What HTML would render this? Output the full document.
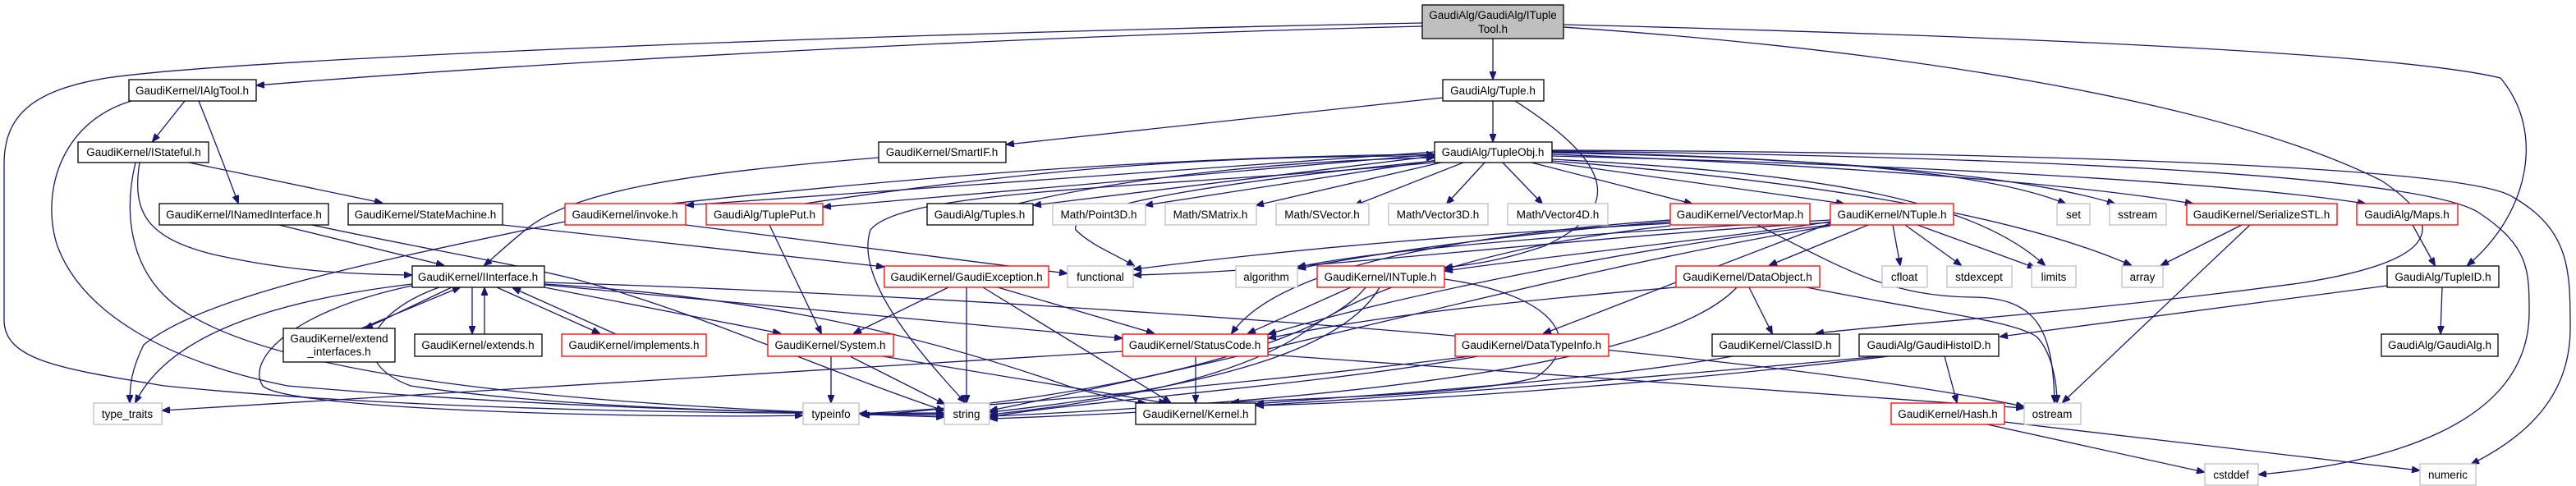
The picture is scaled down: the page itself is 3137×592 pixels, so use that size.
<!DOCTYPE html>
<html><head><meta charset="utf-8"><style>
html,body{margin:0;padding:0;background:#fff}
svg{display:block}
text{font-family:"Liberation Sans",sans-serif;font-size:13.5px;fill:#000;text-anchor:middle}
.e{fill:none;stroke:#191970;stroke-width:1.3}
.b{fill:#fff;stroke:#000;stroke-width:1.3}
.r{fill:#fff;stroke:#ff0000;stroke-width:1.3}
.g{fill:#fff;stroke:#bfbfbf;stroke-width:1.3}
</style></head><body>
<svg width="3137" height="592" viewBox="0 0 3137 592" xmlns="http://www.w3.org/2000/svg">
<defs><marker id="a" markerWidth="10" markerHeight="8" refX="9" refY="4" orient="auto" markerUnits="userSpaceOnUse"><path d="M0,0 L10,4 L0,8 z" fill="#191970" stroke="#191970"/></marker></defs>
<g class="e" marker-end="url(#a)">
<!-- top -->
<path d="M1818,47 L1818,96"/>
<path d="M1732,32 C1200,45 600,80 313,104"/>
<path d="M1732,28 C1100,40 300,70 130,95 C40,110 5,140 5,200 L5,390 C5,440 80,450 200,470 C500,500 900,505 1149,503"/>
<path d="M1904,30 C2300,40 2900,60 3045,95 C3100,160 3080,260 3005,323"/>
<path d="M1904,33 C2300,60 2700,120 2900,220 C2990,280 2960,320 2800,345 C2500,385 2300,395 2212,406"/>
<!-- Tuple -->
<path d="M1818,123 L1818,172"/>
<path d="M1757,119 L1226,176"/>
<path d="M1845,123 C1950,190 1990,250 1880,300 C1820,320 1790,322 1760,326"/>
<!-- IAlgTool -->
<path d="M225,123 L186,172"/>
<path d="M242,123 C265,180 280,220 290,247"/>
<path d="M160,123 C70,150 50,240 70,300 C100,380 200,440 350,470 C700,500 1000,503 1149,506"/>
<!-- IStateful -->
<path d="M230,198 L465,247"/>
<path d="M170,198 C160,260 180,290 260,310 C350,330 420,334 501,335"/>
<path d="M165,198 C150,260 160,320 200,360 C300,460 700,495 1149,508"/>
<!-- INamed -->
<path d="M340,274 L540,323"/>
<path d="M380,274 C500,300 620,320 700,340 C850,380 1000,450 1149,500"/>
<!-- StateMachine -->
<path d="M612,274 L1076,325"/>
<!-- SmartIF -->
<path d="M1070,192 C850,210 700,230 640,280 C615,300 600,315 590,323"/>
<!-- invoke -->
<path d="M688,270 C450,320 250,360 175,420 C160,450 158,470 158,490"/>
<path d="M835,274 L1299,333"/>
<!-- TupleObj to row3 -->
<path d="M1747,185 L836,250"/>
<path d="M1747,188 L1003,252"/>
<path d="M1747,190 L1259,250"/>
<path d="M1750,195 L1395,250"/>
<path d="M1755,198 L1530,250"/>
<path d="M1782,198 L1650,250"/>
<path d="M1808,198 L1762,248"/>
<path d="M1830,198 L1878,248"/>
<path d="M1865,198 L2060,248"/>
<path d="M1890,198 L2245,248"/>
<path d="M1890,185 C2100,190 2400,200 2515,248"/>
<path d="M1890,186 C2200,192 2450,210 2575,248"/>
<path d="M1890,188 C2200,200 2500,220 2670,248"/>
<path d="M1890,190 C2300,200 2700,220 2880,248"/>
<path d="M1890,194 C2200,210 2400,240 2490,323"/>
<path d="M1890,196 C2200,220 2450,260 2595,323"/>
<path d="M1890,184 C2400,190 2950,210 3020,260 C3080,300 3080,330 3080,380 C3080,520 2900,565 2751,578"/>
<path d="M1890,183 C2400,185 3000,200 3060,240 C3130,280 3130,330 3130,400 C3130,480 3080,530 3010,565"/>
<path d="M1747,196 C1500,220 1300,250 1310,280 C1330,300 1360,310 1381,324"/>
<path d="M1747,198 C1400,230 1100,230 1060,280 C1040,340 1120,430 1175,490"/>
<!-- back edges to TupleObj -->
<path d="M800,250 C1200,205 1500,190 1746,188"/>
<path d="M980,248 C1300,200 1500,190 1746,190"/>
<path d="M1240,248 C1400,210 1600,195 1746,192"/>
<!-- TuplePut -->
<path d="M937,274 L1000,406"/>
<!-- IInterface -->
<path d="M550,350 L445,400"/>
<path d="M440,400 L560,350"/>
<path d="M575,350 L575,406"/>
<path d="M590,407 L590,351"/>
<path d="M605,350 L730,406"/>
<path d="M750,407 L625,351"/>
<path d="M663,350 L950,406"/>
<path d="M663,347 L1366,412"/>
<path d="M502,346 C300,370 200,420 165,490"/>
<path d="M502,348 C350,380 300,440 320,470 C350,500 800,510 977,506"/>
<path d="M535,350 C450,380 420,440 500,470 C700,500 1000,504 1149,504"/>
<path d="M663,346 C900,360 1100,400 1300,470 C1350,485 1380,490 1395,491"/>
<path d="M663,344 C1200,360 2100,420 2464,495"/>
<!-- GaudiException -->
<path d="M1155,350 L1040,406"/>
<path d="M1177,350 L1177,490"/>
<path d="M1197,350 L1425,490"/>
<path d="M1215,350 L1405,406"/>
<!-- System -->
<path d="M1012,434 L1012,490"/>
<path d="M1035,434 L1150,492"/>
<path d="M1075,434 L1420,491"/>
<!-- StatusCode -->
<path d="M1456,434 L1456,490"/>
<path d="M1367,428 C900,460 500,480 198,500"/>
<path d="M1544,432 C1900,460 2200,480 2464,497"/>
<!-- VectorMap -->
<path d="M2034,270 C1900,280 1720,300 1581,327"/>
<path d="M2034,272 C1800,285 1600,300 1381,328"/>
<path d="M2034,268 C1800,285 1560,320 1500,406"/>
<path d="M2140,274 C2250,330 2300,360 2400,362 C2480,362 2500,400 2502,490"/>
<path d="M2034,275 C1800,300 1650,360 1595,400 C1500,470 1300,495 1206,505"/>
<!-- NTuple -->
<path d="M2275,274 L2155,323"/>
<path d="M2305,274 L2314,323"/>
<path d="M2320,274 L2388,323"/>
<path d="M2335,274 L2478,326"/>
<path d="M2229,270 C2100,290 1900,310 1760,330"/>
<path d="M2229,272 C2100,320 1950,380 1880,406"/>
<path d="M2229,274 C2000,300 1700,360 1545,407"/>
<path d="M2229,268 C2000,280 1700,300 1581,325"/>
<path d="M2229,271 C1900,290 1600,330 1381,335"/>
<path d="M2229,275 C1900,330 1600,420 1206,500"/>
<!-- INTuple -->
<path d="M1645,350 L1520,406"/>
<path d="M1680,350 C1640,420 1500,470 1206,502"/>
<path d="M1663,350 C1600,430 1300,490 1050,506"/>
<path d="M1759,340 C1900,360 1930,420 1870,460 C1800,480 1600,485 1500,490"/>
<!-- DataObject -->
<path d="M2130,350 L2158,406"/>
<path d="M2041,350 C1800,370 1650,390 1545,412"/>
<path d="M2115,350 C2050,420 1800,480 1206,507"/>
<path d="M2200,350 C2350,380 2450,390 2480,410 C2500,430 2505,470 2505,490"/>
<!-- DataTypeInfo -->
<path d="M1800,434 C1600,470 1300,490 1206,508"/>
<path d="M1790,434 C1500,470 1200,495 1047,504"/>
<!-- ClassID -->
<path d="M2110,434 C1900,470 1600,485 1530,492"/>
<!-- GaudiHistoID -->
<path d="M2368,434 L2383,490"/>
<path d="M2300,434 C2000,470 1700,490 1530,494"/>
<path d="M2290,434 C1900,470 1500,500 1206,510"/>
<!-- Hash -->
<path d="M2420,517 L2684,575"/>
<path d="M2441,514 L2946,573"/>
<!-- TupleID, Maps, SerializeSTL -->
<path d="M2974,350 L2972,406"/>
<path d="M2907,348 L2436,410"/>
<path d="M2938,274 L2965,323"/>
<path d="M2730,274 L2632,323"/>
<path d="M2740,274 L2512,490"/>
</g>
<!-- nodes -->
<rect x="1732" y="6" width="172" height="41" fill="#bfbfbf" stroke="#000" stroke-width="1.3"/>
<text x="1818" y="23">GaudiAlg/GaudiAlg/ITuple</text><text x="1818" y="40">Tool.h</text>
<rect class="b" x="1757" y="97" width="123" height="26"/><text x="1818" y="115">GaudiAlg/Tuple.h</text>
<rect class="b" x="157" y="97" width="155" height="26"/><text x="234" y="115">GaudiKernel/IAlgTool.h</text>
<rect class="b" x="95" y="173" width="159" height="25"/><text x="175" y="190">GaudiKernel/IStateful.h</text>
<rect class="b" x="1070" y="173" width="155" height="25"/><text x="1147" y="190">GaudiKernel/SmartIF.h</text>
<rect class="b" x="1747" y="173" width="143" height="25"/><text x="1818" y="190">GaudiAlg/TupleObj.h</text>
<rect class="b" x="194" y="248" width="206" height="26"/><text x="297" y="266">GaudiKernel/INamedInterface.h</text>
<rect class="b" x="424" y="248" width="188" height="26"/><text x="518" y="266">GaudiKernel/StateMachine.h</text>
<rect class="r" x="688" y="248" width="147" height="26"/><text x="761" y="266">GaudiKernel/invoke.h</text>
<rect class="r" x="860" y="248" width="142" height="26"/><text x="931" y="266">GaudiAlg/TuplePut.h</text>
<rect class="b" x="1129" y="248" width="129" height="26"/><text x="1193" y="266">GaudiAlg/Tuples.h</text>
<rect class="g" x="1282" y="248" width="113" height="26"/><text x="1338" y="266">Math/Point3D.h</text>
<rect class="g" x="1419" y="248" width="111" height="26"/><text x="1474" y="266">Math/SMatrix.h</text>
<rect class="g" x="1554" y="248" width="113" height="26"/><text x="1610" y="266">Math/SVector.h</text>
<rect class="g" x="1691" y="248" width="121" height="26"/><text x="1751" y="266">Math/Vector3D.h</text>
<rect class="g" x="1836" y="248" width="122" height="26"/><text x="1897" y="266">Math/Vector4D.h</text>
<rect class="r" x="2034" y="248" width="170" height="26"/><text x="2119" y="266">GaudiKernel/VectorMap.h</text>
<rect class="r" x="2229" y="248" width="150" height="26"/><text x="2304" y="266">GaudiKernel/NTuple.h</text>
<rect class="g" x="2505" y="248" width="40" height="26"/><text x="2525" y="266">set</text>
<rect class="g" x="2569" y="248" width="69" height="26"/><text x="2603" y="266">sstream</text>
<rect class="r" x="2663" y="248" width="183" height="26"/><text x="2754" y="266">GaudiKernel/SerializeSTL.h</text>
<rect class="r" x="2870" y="248" width="123" height="26"/><text x="2931" y="266">GaudiAlg/Maps.h</text>
<rect class="b" x="502" y="324" width="161" height="26"/><text x="582" y="342">GaudiKernel/IInterface.h</text>
<rect class="r" x="1077" y="324" width="200" height="26"/><text x="1177" y="342">GaudiKernel/GaudiException.h</text>
<rect class="g" x="1300" y="324" width="80" height="26"/><text x="1340" y="342">functional</text>
<rect class="g" x="1505" y="324" width="75" height="26"/><text x="1542" y="342">algorithm</text>
<rect class="r" x="1604" y="324" width="155" height="26"/><text x="1681" y="342">GaudiKernel/INTuple.h</text>
<rect class="r" x="2041" y="324" width="175" height="26"/><text x="2128" y="342">GaudiKernel/DataObject.h</text>
<rect class="g" x="2292" y="324" width="55" height="26"/><text x="2319" y="342">cfloat</text>
<rect class="g" x="2371" y="324" width="79" height="26"/><text x="2410" y="342">stdexcept</text>
<rect class="g" x="2474" y="324" width="54" height="26"/><text x="2501" y="342">limits</text>
<rect class="g" x="2584" y="324" width="50" height="26"/><text x="2609" y="342">array</text>
<rect class="b" x="2907" y="324" width="136" height="26"/><text x="2975" y="342">GaudiAlg/TupleID.h</text>
<rect class="b" x="345" y="400" width="136" height="41"/><text x="413" y="417">GaudiKernel/extend</text><text x="413" y="433">_interfaces.h</text>
<rect class="b" x="505" y="407" width="155" height="27"/><text x="582" y="425">GaudiKernel/extends.h</text>
<rect class="r" x="684" y="407" width="176" height="27"/><text x="772" y="425">GaudiKernel/implements.h</text>
<rect class="r" x="935" y="407" width="153" height="27"/><text x="1011" y="425">GaudiKernel/System.h</text>
<rect class="r" x="1367" y="407" width="177" height="27"/><text x="1455" y="425">GaudiKernel/StatusCode.h</text>
<rect class="r" x="1772" y="407" width="187" height="27"/><text x="1865" y="425">GaudiKernel/DataTypeInfo.h</text>
<rect class="b" x="2085" y="407" width="155" height="27"/><text x="2162" y="425">GaudiKernel/ClassID.h</text>
<rect class="b" x="2264" y="407" width="170" height="27"/><text x="2349" y="425">GaudiAlg/GaudiHistoID.h</text>
<rect class="b" x="2900" y="407" width="142" height="27"/><text x="2971" y="425">GaudiAlg/GaudiAlg.h</text>
<rect class="g" x="114" y="491" width="83" height="26"/><text x="155" y="509">type_traits</text>
<rect class="g" x="978" y="491" width="68" height="26"/><text x="1012" y="509">typeinfo</text>
<rect class="g" x="1150" y="491" width="55" height="26"/><text x="1177" y="509">string</text>
<rect class="b" x="1383" y="491" width="146" height="26"/><text x="1456" y="509">GaudiKernel/Kernel.h</text>
<rect class="r" x="2303" y="491" width="138" height="26"/><text x="2372" y="509">GaudiKernel/Hash.h</text>
<rect class="g" x="2465" y="491" width="69" height="26"/><text x="2499" y="509">ostream</text>
<rect class="g" x="2685" y="565" width="65" height="26"/><text x="2717" y="583">cstddef</text>
<rect class="g" x="2947" y="565" width="68" height="26"/><text x="2981" y="583">numeric</text>
</svg>
</body></html>
